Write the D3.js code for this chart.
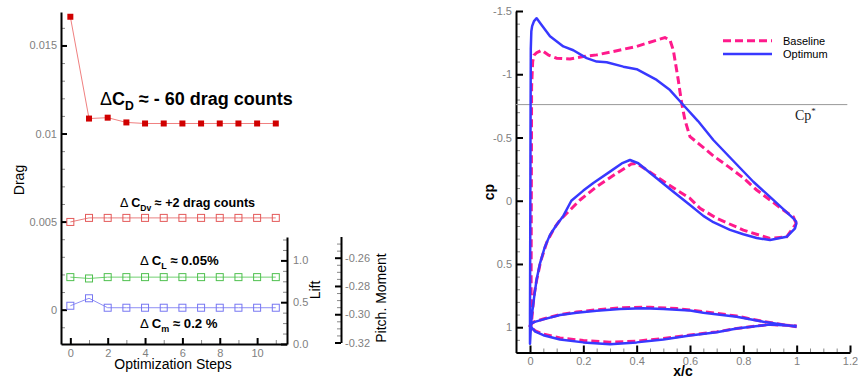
<!DOCTYPE html>
<html>
<head>
<meta charset="utf-8">
<script src="https://cdn.jsdelivr.net/npm/d3@7"></script>
<style>
  body { margin: 0; background: #fff; }
  svg { font-family: "Liberation Sans", Arial, sans-serif; }
  .tick text { fill: #808080; font-size: 11px; }
  .major .tick line { stroke: #000; stroke-width: 2; }
  .minor .tick line { stroke: #888; stroke-width: 1; }
  .axisline path.domain { stroke: #000; stroke-width: 2; }
</style>
</head>
<body>
<svg id="chart" width="858" height="379"></svg>
<script>
// ---- left plot: optimisation history ----
const steps = [0, 1, 2, 3, 4, 5, 6, 7, 8, 9, 10, 11];
const dragValues = [0.01663, 0.01085, 0.0109, 0.01063, 0.01057, 0.01057, 0.01057, 0.01057, 0.01057, 0.01057, 0.01057, 0.01057];
const viscDragValues = [0.00498, 0.00521, 0.00521, 0.00521, 0.00521, 0.00521, 0.00521, 0.00521, 0.00521, 0.00521, 0.00521, 0.00521];
const liftValues = [0.80, 0.784, 0.80, 0.80, 0.80, 0.80, 0.80, 0.80, 0.80, 0.80, 0.80, 0.80];
const pitchValues = [-0.294, -0.2887, -0.2954, -0.2954, -0.2954, -0.2954, -0.2954, -0.2954, -0.2954, -0.2954, -0.2954, -0.2954];

const stepTicks = [0, 2, 4, 6, 8, 10];
const dragTicks = [0, 0.005, 0.01, 0.015];
const liftTicks = [0.0, 0.5, 1.0];
const pitchTicks = [-0.32, -0.30, -0.28, -0.26];

// ---- right plot: pressure distributions (x/c, cp) ----
const optimumCp = [
  [1.0, 0.17], [0.9875, 0.139], [0.9, -0.03], [0.8375, -0.15], [0.76, -0.32], [0.6875, -0.48],
  [0.63, -0.63], [0.575, -0.757], [0.525, -0.875], [0.475, -0.955], [0.40, -1.04], [0.35, -1.06],
  [0.2875, -1.095], [0.25, -1.10], [0.2125, -1.127], [0.1625, -1.19], [0.125, -1.22], [0.075, -1.30],
  [0.04, -1.40], [0.025, -1.443], [0.015, -1.42], [0.008, -1.38], [0.005, -1.34], [0.003, -1.2],
  [0.002, -0.6], [0.001, 0.2], [0.0, 0.9], [0.0, 1.13],
  [0.002, 1.05], [0.006, 0.92], [0.015, 0.77], [0.025, 0.62], [0.0375, 0.495], [0.055, 0.37],
  [0.075, 0.27], [0.1, 0.19], [0.125, 0.12], [0.155, 0.0], [0.2, -0.08], [0.2375, -0.14],
  [0.30, -0.23], [0.344, -0.295], [0.375, -0.322], [0.406, -0.296], [0.475, -0.177], [0.5375, -0.071],
  [0.6, 0.034], [0.65, 0.12], [0.6875, 0.17], [0.75, 0.23], [0.8, 0.265], [0.85, 0.295],
  [0.9, 0.311], [0.9625, 0.285], [0.994, 0.218], [1.0, 0.17]
];
const baselineCp = [
  [0.998, 0.18], [0.9875, 0.127], [0.95, 0.074], [0.9, -0.006], [0.85, -0.085], [0.8, -0.18],
  [0.75, -0.26], [0.6875, -0.355], [0.631, -0.454], [0.6, -0.506], [0.581, -0.638], [0.569, -0.77],
  [0.5625, -0.86], [0.556, -0.955], [0.5375, -1.19], [0.525, -1.27], [0.506, -1.29], [0.475, -1.27],
  [0.4, -1.22], [0.3125, -1.18], [0.25, -1.153], [0.2, -1.14], [0.15, -1.12], [0.1, -1.127],
  [0.07, -1.15], [0.044, -1.19], [0.025, -1.17], [0.015, -1.15], [0.01, -1.1], [0.006, -0.9],
  [0.005, 0.0], [0.004, 0.8], [0.003, 1.0],
  [0.006, 0.95], [0.015, 0.75], [0.025, 0.627], [0.04, 0.48], [0.0625, 0.33], [0.09, 0.22],
  [0.1125, 0.153], [0.15, 0.074], [0.1875, -0.006], [0.25, -0.111], [0.325, -0.217], [0.38, -0.29],
  [0.4, -0.296], [0.475, -0.19], [0.55, -0.085], [0.6, -0.019], [0.6375, 0.06], [0.7, 0.139],
  [0.8, 0.232], [0.9, 0.298], [0.9625, 0.285], [0.994, 0.192], [0.998, 0.18]
];
// airfoil outlines drawn on the same axes
const optimumShape = [
  [1.0, 0.997], [0.875, 0.957], [0.775, 0.918], [0.65, 0.886], [0.6, 0.868], [0.5, 0.857],
  [0.425, 0.851], [0.3375, 0.857], [0.25, 0.87], [0.175, 0.886], [0.1125, 0.904], [0.05, 0.938],
  [0.015, 0.96], [0.003, 0.975], [0.0, 0.99], [0.02, 1.035], [0.05, 1.063], [0.1125, 1.097],
  [0.2, 1.12], [0.3, 1.134], [0.4, 1.12], [0.5, 1.097], [0.6, 1.065], [0.7, 1.04],
  [0.775, 1.01], [0.9, 0.978], [1.0, 0.99]
];
const baselineShape = [
  [1.0, 0.997], [0.875, 0.955], [0.775, 0.912], [0.65, 0.876], [0.55, 0.853], [0.45, 0.842],
  [0.35, 0.846], [0.25, 0.862], [0.175, 0.88], [0.1125, 0.9], [0.05, 0.935], [0.015, 0.958],
  [0.003, 0.975], [0.0, 0.99], [0.02, 1.03], [0.05, 1.055], [0.1125, 1.085], [0.2, 1.105],
  [0.3, 1.118], [0.4, 1.11], [0.5, 1.09], [0.6, 1.062], [0.7, 1.037], [0.775, 1.01],
  [0.9, 0.978], [1.0, 0.99]
];
const cpStar = -0.76;
const cpXTicks = [0, 0.2, 0.4, 0.6, 0.8, 1, 1.2];
const cpYTicks = [-1.5, -1, -0.5, 0, 0.5, 1];
const legendNames = ["Baseline", "Optimum"];

const svg = d3.select("#chart");
svg.append("rect").attr("width", 858).attr("height", 379).attr("fill", "#fff");

// scales
const xStep = d3.scaleLinear().domain([-0.5, 11.6]).range([61, 287]);
const yDrag = d3.scaleLinear().domain([-0.00195, 0.0169]).range([344, 12]);
const yLift = d3.scaleLinear().domain([0, 1.28]).range([344, 237]);
const yPitch = d3.scaleLinear().domain([-0.32, -0.245]).range([342.5, 236.5]);

const xCp = d3.scaleLinear().domain([-0.0525, 1.2]).range([516, 850]);
const yCp = d3.scaleLinear().domain([-1.5, 1.2]).range([11, 352.5]);

function minorAxis(axis, vals, size) {
  return axis.tickValues(vals).tickSizeInner(size).tickSizeOuter(0).tickFormat("");
}
function drawAxis(g, major, minor) {
  g.append("g").attr("class", "minor").call(minor).select(".domain").remove();
  g.append("g").attr("class", "major axisline").call(major);
}

// drag axis
drawAxis(svg.append("g").attr("transform", "translate(61,0)"),
  d3.axisLeft(yDrag).tickValues(dragTicks).tickSizeInner(-6).tickSizeOuter(0).tickPadding(4).tickFormat(d => String(+d.toFixed(3))),
  minorAxis(d3.axisLeft(yDrag), d3.range(-0.001, 0.0169, 0.001).filter(v => !dragTicks.some(t => Math.abs(t - v) < 1e-6)), -4));

// steps axis
drawAxis(svg.append("g").attr("transform", "translate(0,344)"),
  d3.axisBottom(xStep).tickValues(stepTicks).tickSizeInner(-6).tickSizeOuter(0).tickPadding(5),
  minorAxis(d3.axisBottom(xStep), [1, 3, 5, 7, 9, 11], -4));

// lift axis
drawAxis(svg.append("g").attr("transform", "translate(287,0)"),
  d3.axisRight(yLift).tickValues(liftTicks).tickSizeInner(-6).tickSizeOuter(0).tickPadding(6).tickFormat(d => d.toFixed(1)),
  minorAxis(d3.axisRight(yLift), [0.125, 0.25, 0.375, 0.625, 0.75, 0.875, 1.125, 1.25], -4));

// pitch moment axis
drawAxis(svg.append("g").attr("transform", "translate(341,0)"),
  d3.axisRight(yPitch).tickValues(pitchTicks).tickSizeInner(-6).tickSizeOuter(0).tickPadding(4).tickFormat(d => d.toFixed(2)),
  minorAxis(d3.axisRight(yPitch), [-0.315, -0.31, -0.305, -0.295, -0.29, -0.285, -0.275, -0.27, -0.265, -0.255, -0.25], -4));

// series
function series(vals, yScale, color, lineColor, filled) {
  const line = d3.line().x((d, i) => xStep(steps[i])).y(d => yScale(d));
  svg.append("path").datum(vals).attr("d", line)
    .attr("fill", "none").attr("stroke", lineColor).attr("stroke-width", 1);
  const s = filled ? 6 : 7;
  svg.append("g").selectAll("rect").data(vals).join("rect")
    .attr("x", (d, i) => xStep(steps[i]) - s / 2)
    .attr("y", d => yScale(d) - s / 2)
    .attr("width", s).attr("height", s)
    .attr("fill", filled ? color : "#fff")
    .attr("fill-opacity", filled ? 1 : 0)
    .attr("stroke", filled ? "none" : color).attr("stroke-width", 1);
}
series(dragValues, yDrag, "#d00000", "#f08080", true);
series(viscDragValues, yDrag, "#e45a5a", "#e88080", false);
series(liftValues, yLift, "#4fc04f", "#70d070", false);
series(pitchValues, yPitch, "#7777f2", "#8f8ff5", false);

// axis titles (left)
function title(txt, x, y, rot, opts = {}) {
  svg.append("text").attr("transform", `translate(${x},${y}) rotate(${rot})`)
    .attr("text-anchor", "middle").attr("font-size", opts.size || 14)
    .attr("font-weight", opts.weight || "normal").attr("fill", "#000").text(txt);
}
title("Drag", 24, 180, -90);
title("Optimization Steps", 173, 369, 0);
title("Lift", 320, 290, -90);
title("Pitch. Moment", 386, 298, -90);

// annotations
function deltaLabel(x, y, size, sym, sub, rest, weight) {
  const t = svg.append("text").attr("x", x).attr("y", y).attr("font-size", size)
    .attr("font-weight", weight).attr("fill", "#000");
  t.append("tspan").attr("font-weight", "normal").text("\u0394" + (size < 15 ? " " : ""));
  t.append("tspan").text(sym);
  t.append("tspan").attr("font-size", size * 0.68).attr("dy", size * 0.28).text(sub);
  t.append("tspan").attr("dy", -size * 0.28).text(rest);
}
deltaLabel(100, 105, 18, "C", "D", " \u2248 - 60 drag counts", "bold");
deltaLabel(120, 207, 12.6, "C", "Dv", " \u2248 +2 drag counts", "bold");
deltaLabel(140, 265, 13.2, "C", "L", " \u2248 0.05%", "bold");
deltaLabel(140, 328, 13.2, "C", "m", " \u2248 0.2 %", "bold");

// ---- right plot ----
drawAxis(svg.append("g").attr("transform", "translate(516,0)"),
  d3.axisLeft(yCp).tickValues(cpYTicks).tickSizeInner(-7).tickSizeOuter(0).tickPadding(4).tickFormat(d => String(d)),
  minorAxis(d3.axisLeft(yCp), d3.range(-1.4, 1.21, 0.1).filter(v => Math.abs(v * 2 - Math.round(v * 2)) > 1e-6), -4));
drawAxis(svg.append("g").attr("transform", "translate(0,352.5)"),
  d3.axisBottom(xCp).tickValues(cpXTicks).tickSizeInner(-7).tickSizeOuter(0).tickPadding(5).tickFormat(d => String(d)),
  minorAxis(d3.axisBottom(xCp), d3.range(0.05, 1.2, 0.05).filter(v => Math.abs(v * 5 - Math.round(v * 5)) > 1e-6), -4));

// sonic line
svg.append("line").attr("x1", xCp(-0.0525)).attr("x2", xCp(1.19))
  .attr("y1", yCp(cpStar)).attr("y2", yCp(cpStar)).attr("stroke", "#999").attr("stroke-width", 1);
const cs = svg.append("text").attr("x", 795).attr("y", 120)
  .attr("font-family", "Liberation Serif, Times New Roman, serif").attr("font-size", 14).attr("fill", "#222");
cs.append("tspan").text("Cp");
cs.append("tspan").attr("font-size", 9).attr("dy", -6).text("*");

const cpLine = d3.line().x(d => xCp(d[0])).y(d => yCp(d[1]));
const pink = "#ff1a8c", blue = "#3838ff";
[baselineCp, baselineShape].forEach(d => {
  svg.append("path").datum(d).attr("d", cpLine).attr("fill", "none")
    .attr("stroke", pink).attr("stroke-width", 3).attr("stroke-dasharray", "8,4");
});
[optimumCp, optimumShape].forEach(d => {
  svg.append("path").datum(d).attr("d", cpLine).attr("fill", "none")
    .attr("stroke", blue).attr("stroke-width", 2.5).attr("stroke-linejoin", "round");
});

title("cp", 494, 192, -90, { weight: "bold" });
title("x/c", 683, 376, 0, { weight: "bold" });

// legend
const leg = svg.append("g");
legendNames.forEach((n, i) => {
  const y = 40.7 + i * 13.3;
  leg.append("line").attr("x1", 723).attr("x2", 772).attr("y1", y).attr("y2", y)
    .attr("stroke", i === 0 ? pink : blue).attr("stroke-width", i === 0 ? 3 : 2.5)
    .attr("stroke-dasharray", i === 0 ? "8,4" : null);
  leg.append("text").attr("x", 783).attr("y", y + 4).attr("font-size", 11).attr("fill", "#000").text(n);
});
</script>
</body>
</html>
